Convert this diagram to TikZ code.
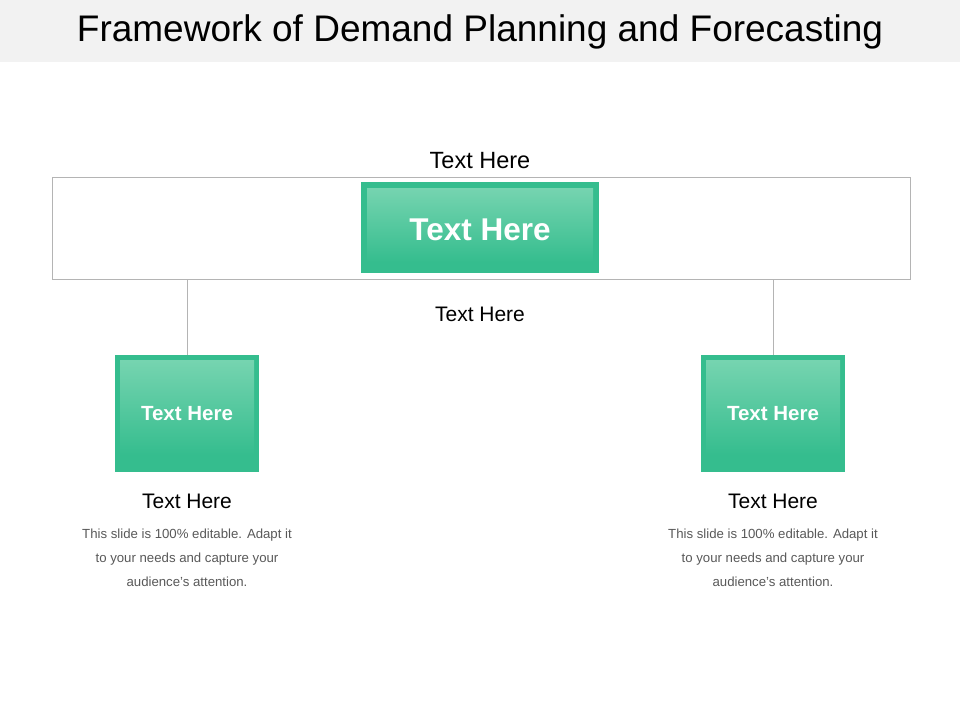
\documentclass[tikz,border=0pt]{standalone}
\usepackage{fontspec}
\setmainfont{Liberation Sans}
\begin{document}
\begin{tikzpicture}[x=1pt,y=-1pt,
  greenbox/.style={fill=boxgreen,draw=none},
  glow/.style={top color=glowgreen,bottom color=boxgreen,draw=none},
  lbl/.style={font=\fontsize{21}{24}\selectfont,text=black},
  desc/.style={font=\fontsize{13.2}{24}\selectfont,text=descgray,align=center},
  conn/.style={draw=linegray,line width=0.8pt}]
\definecolor{boxgreen}{HTML}{35BD8E}
\definecolor{glowgreen}{HTML}{76D4B0}
\definecolor{linegray}{HTML}{B4B4B4}
\definecolor{descgray}{HTML}{595959}
\definecolor{titlebg}{HTML}{F2F2F2}
\useasboundingbox (0,0) rectangle (960,720);
\fill[white] (0,0) rectangle (960,720);
\fill[titlebg] (0,0) rectangle (960,62);
\node (title) at (480,32) {\fontsize{37}{42}\selectfont Framework of Demand Planning and Forecasting};
% outer frame
\draw[conn] (52,177) rectangle (910,279);
\coordinate (fl) at (187,279);
\coordinate (fr) at (773,279);
% center box
\fill[greenbox] (361,182) rectangle (599,273);
\shade[glow] (367,188) rectangle (593,262);
\node[font=\bfseries\fontsize{31.5}{34}\selectfont,text=white] (cbox) at (480,230) {Text Here};
\node[lbl,font=\fontsize{23.5}{26}\selectfont] (toplbl) at (480,161) {Text Here};
\node[lbl] (midlbl) at (480,314) {Text Here};
% left box
\fill[greenbox] (115,355) rectangle (259,472);
\shade[glow] (120,360) rectangle (254,455);
\node[font=\bfseries\fontsize{20.5}{22}\selectfont,text=white] (lbox) at (187,414) {Text Here};
\coordinate (lt) at (187,355);
% right box
\fill[greenbox] (701,355) rectangle (845,472);
\shade[glow] (706,360) rectangle (840,455);
\node[font=\bfseries\fontsize{20.5}{22}\selectfont,text=white] (rbox) at (773,414) {Text Here};
\coordinate (rt) at (773,355);
\draw[conn] (fl) -- (lt);
\draw[conn] (fr) -- (rt);
% labels
\node[lbl] (llbl) at (187,501) {Text Here};
\node[lbl] (rlbl) at (773,501) {Text Here};
\node[desc,anchor=north] (ldesc) at (187,525) {This slide is 100\% editable. Adapt it\\to your needs and capture your\\audience's attention.};
\node[desc,anchor=north] (rdesc) at (773,525) {This slide is 100\% editable. Adapt it\\to your needs and capture your\\audience's attention.};
\end{tikzpicture}
\end{document}
